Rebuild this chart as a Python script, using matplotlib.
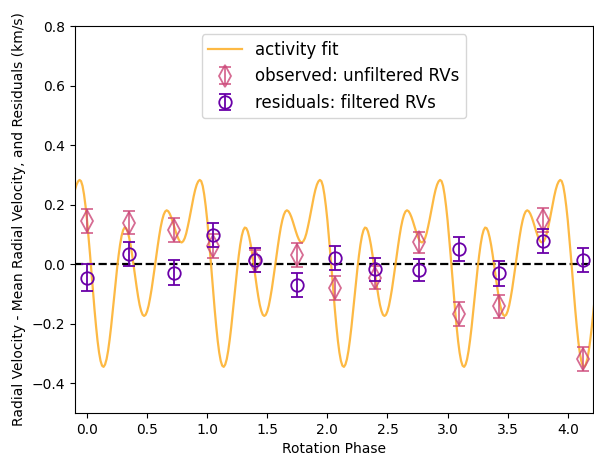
import numpy as np
import matplotlib
matplotlib.use("Agg")
import matplotlib.pyplot as plt

# rotation phase of each RV epoch
phase = [0.00, 0.35, 0.72, 1.05, 1.40, 1.75, 2.06, 2.40, 2.76, 3.095, 3.43, 3.79, 4.13]

# observed (unfiltered) RVs minus mean, km/s
rv_obs = [0.146, 0.140, 0.114, 0.062, 0.011, 0.030, -0.081, -0.045, 0.073,
          -0.168, -0.142, 0.149, -0.319]
rv_obs_err = [0.040, 0.038, 0.040, 0.040, 0.038, 0.040, 0.040, 0.040, 0.035,
              0.040, 0.040, 0.040, 0.041]

# residuals after removing activity fit, km/s
rv_res = [-0.045, 0.034, -0.028, 0.098, 0.013, -0.070, 0.022, -0.017, -0.019,
          0.050, -0.030, 0.078, 0.014]
rv_res_err = [0.044, 0.040, 0.042, 0.040, 0.040, 0.040, 0.040, 0.038, 0.038,
              0.040, 0.042, 0.040, 0.039]

# activity fit read over one rotation (phase 0 .. 0.9875, step 0.0125); it repeats every rotation
fit_one_rot = [0.148, 0.092, 0.032, -0.031, -0.094, -0.154, -0.209, -0.258,
               -0.297, -0.325, -0.341, -0.345, -0.337, -0.319, -0.291, -0.254,
               -0.211, -0.163, -0.113, -0.063, -0.014, 0.029, 0.066, 0.095,
               0.114, 0.123, 0.121, 0.110, 0.090, 0.064, 0.032, -0.003,
               -0.040, -0.076, -0.109, -0.137, -0.157, -0.170, -0.174, -0.170,
               -0.158, -0.139, -0.113, -0.083, -0.049, -0.013, 0.024, 0.060,
               0.094, 0.124, 0.148, 0.166, 0.177, 0.181, 0.178, 0.170,
               0.158, 0.143, 0.126, 0.110, 0.095, 0.083, 0.075, 0.073,
               0.077, 0.087, 0.103, 0.125, 0.149, 0.176, 0.203, 0.228,
               0.250, 0.267, 0.278, 0.283, 0.279, 0.263, 0.234, 0.195]
fit_step = 0.0125

idx = np.arange(-8, 350)
fit_phase = idx * fit_step
fit_rv = np.array(fit_one_rot)[idx % len(fit_one_rot)]

cmap = plt.get_cmap('plasma')

fig = plt.figure(figsize=(5.94, 4.65), dpi=100)
ax = fig.add_axes([0.1263, 0.1118, 0.8720, 0.8322])

ax.plot(fit_phase, fit_rv, color=cmap(0.83), alpha=0.9, lw=1.6, label='activity fit')
ax.axhline(0, color='k', ls='--', lw=1.6, zorder=1)
ax.errorbar(phase, rv_obs, yerr=rv_obs_err, fmt='d', mfc='none', mec=cmap(0.5),
            ecolor=cmap(0.5), color=cmap(0.5), ms=11, mew=1.3, capsize=4,
            elinewidth=1.3, alpha=0.8, label='observed: unfiltered RVs', zorder=3)
ax.errorbar(phase, rv_res, yerr=rv_res_err, fmt='o', mfc='none', mec=cmap(0.2),
            ecolor=cmap(0.2), color=cmap(0.2), ms=9, mew=1.3, capsize=4,
            elinewidth=1.3, label='residuals: filtered RVs', zorder=4)

ax.set_xlim(-0.1, 4.21)
ax.set_ylim(-0.5, 0.8)
ax.set_xticks(np.arange(0, 4.01, 0.5))
ax.set_yticks(np.arange(-0.4, 0.81, 0.2))
ax.set_xlabel('Rotation Phase')
ax.set_ylabel('Radial Velocity - Mean Radial Velocity, and Residuals (km/s)')
ax.legend(loc='upper center', fontsize=12)

fig.savefig('out.png', dpi=100)
